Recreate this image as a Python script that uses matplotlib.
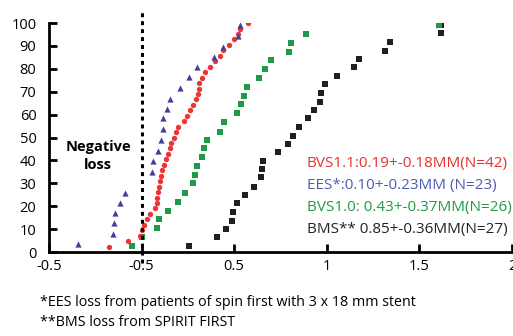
import matplotlib
matplotlib.use("Agg")
import matplotlib.pyplot as plt

plt.rcParams['font.family'] = ['Open Sans', 'DejaVu Sans']

# BVS1.1 (red circles)
bvs11_x = [-0.178, -0.076, -0.011, 0.0, 0.011, 0.027, 0.043, 0.070, 0.081, 0.081,
           0.086, 0.092, 0.097, 0.103, 0.108, 0.119, 0.130, 0.141, 0.151, 0.157,
           0.173, 0.184, 0.195, 0.227, 0.243, 0.259, 0.276, 0.292, 0.303, 0.308,
           0.308, 0.324, 0.341, 0.368, 0.395, 0.422, 0.438, 0.470, 0.497, 0.519,
           0.530, 0.573]
bvs11_y = [2.4, 4.8, 7.1, 9.5, 11.9, 14.3, 16.7, 19.0, 21.4, 23.8,
           26.2, 28.6, 31.0, 33.3, 35.7, 38.1, 40.5, 42.9, 45.2, 47.6,
           50.0, 52.4, 54.8, 57.1, 59.5, 61.9, 64.3, 66.7, 69.0, 71.4,
           73.8, 76.2, 78.6, 81.0, 83.3, 85.7, 88.1, 90.5, 92.9, 95.2,
           97.6, 100.0]

# EES (blue triangles)
ees_x = [-0.346, -0.157, -0.151, -0.141, -0.114, -0.092, 0.054, 0.059, 0.086, 0.103,
         0.114, 0.114, 0.135, 0.151, 0.205, 0.254, 0.297, 0.389, 0.438, 0.519, 0.530]
ees_y = [3.5, 7.9, 12.7, 17.0, 21.4, 25.8, 34.9, 39.7, 44.1, 48.9,
         53.7, 58.5, 62.4, 66.8, 71.6, 76.4, 80.8, 85.2, 89.5, 94.3, 99.1]

# BVS1.0 (green squares)
bvs10_x = [-0.054, 0.0, 0.081, 0.092, 0.141, 0.195, 0.232, 0.276, 0.286, 0.297,
           0.324, 0.335, 0.351, 0.422, 0.443, 0.514, 0.535, 0.551, 0.568, 0.632,
           0.665, 0.697, 0.795, 0.805, 0.886, 1.605]
bvs10_y = [2.6, 6.6, 10.5, 14.4, 17.9, 21.8, 25.8, 30.1, 33.6, 37.6,
           41.5, 45.4, 48.9, 52.4, 56.8, 60.7, 64.6, 68.1, 72.1, 76.0,
           79.9, 83.8, 87.3, 91.3, 95.2, 99.1]

# BMS (black squares)
bms_x = [0.254, 0.405, 0.454, 0.486, 0.492, 0.514, 0.557, 0.605, 0.643, 0.649,
         0.654, 0.735, 0.789, 0.816, 0.849, 0.897, 0.930, 0.962, 0.968, 0.989,
         1.054, 1.146, 1.173, 1.314, 1.341, 1.616, 1.616]
bms_y = [2.6, 6.6, 10.0, 13.5, 17.5, 21.4, 24.9, 28.4, 32.8, 36.2,
         39.7, 43.7, 47.2, 50.7, 54.6, 58.5, 62.0, 65.5, 69.4, 73.4,
         76.9, 80.8, 84.3, 87.8, 91.7, 95.6, 99.1]

xticks = [-0.5, 0, 0.5, 1, 1.5, 2]
xtick_labels = ['-0.5', '-0.5', '0.5', '1', '1.5', '2']
yticks = [0, 10, 20, 30, 40, 50, 60, 70, 80, 90, 100]

legend_lines = ['BVS1.1:0.19+-0.18MM(N=42)',
                'EES*:0.10+-0.23MM (N=23)',
                'BVS1.0: 0.43+-0.37MM(N=26)',
                'BMS** 0.85+-0.36MM(N=27)']
legend_colors = ['#e8302c', '#4f5cb0', '#1e9a48', '#222222']

fig = plt.figure(figsize=(5.13, 3.36), dpi=100)
ax = fig.add_axes([0.0955, 0.25, 0.9025, 0.6815])

ax.scatter(bms_x, bms_y, marker='s', s=18, color='#231f20', zorder=3, linewidths=0)
ax.scatter(bvs10_x, bvs10_y, marker='s', s=16, color='#1e9a48', zorder=3, linewidths=0)
ax.scatter(bvs11_x, bvs11_y, marker='o', s=15, color='#ee3333', zorder=4, linewidths=0)
ax.scatter(ees_x, ees_y, marker='^', s=20, color='#40409a', zorder=4, linewidths=0)

# dotted zero line
ax.plot([0, 0], [-5, 106], color='black', lw=2.2, ls=(0, (1.3, 1.3)),
        clip_on=False, zorder=5)

ax.set_xlim(-0.5, 2)
ax.set_ylim(0, 100)
ax.set_xticks(xticks)
ax.set_xticklabels(xtick_labels)
ax.set_yticks(yticks)

for s in ['top', 'right']:
    ax.spines[s].set_visible(False)
for s in ['left', 'bottom']:
    ax.spines[s].set_linewidth(2)
ax.tick_params(axis='both', direction='in', length=6, width=2, labelsize=10.5)
ax.tick_params(axis='y', pad=9)
ax.tick_params(axis='x', pad=5)

ax.text(-0.235, 42, 'Negative\nloss', ha='center', va='center', fontsize=10.5,
        fontweight='bold', linespacing=1.35)

for i, (t, c) in enumerate(zip(legend_lines, legend_colors)):
    fig.text(0.598, 0.513 - i * 0.065, t, color=c, fontsize=11, ha='left', va='center')

fig.text(0.078, 0.10, '*EES loss from patients of spin first with 3 x 18 mm stent',
         fontsize=10.3, ha='left', va='center')
fig.text(0.078, 0.04, '**BMS loss from SPIRIT FIRST', fontsize=10.3, ha='left', va='center')

fig.savefig('out.png', dpi=100)
